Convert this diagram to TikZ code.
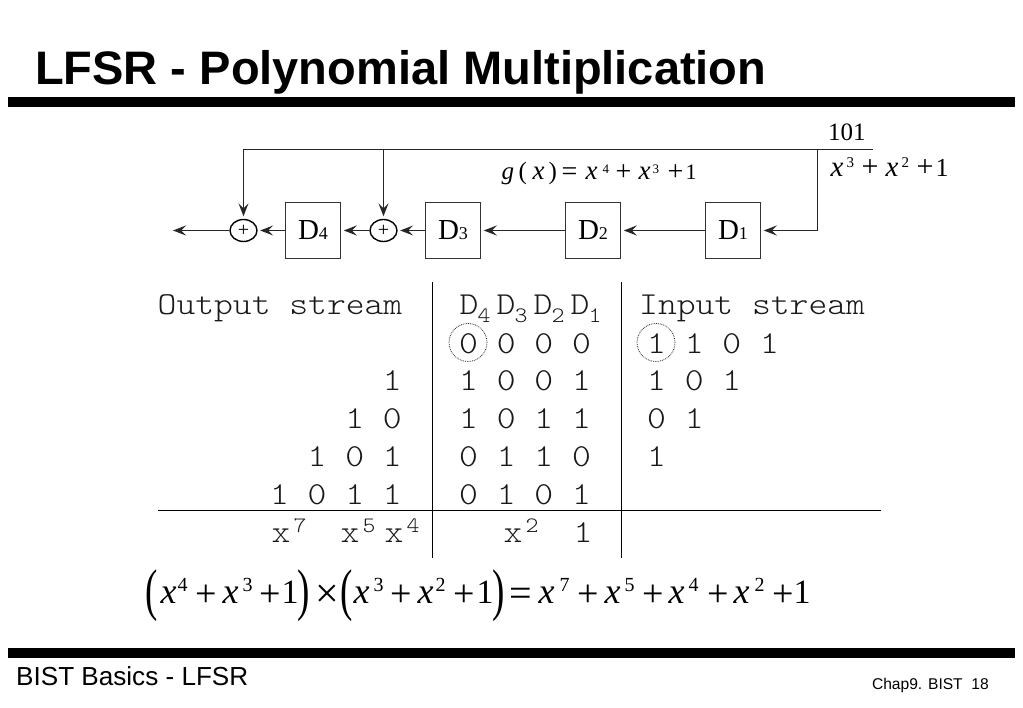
\documentclass[tikz,border=0pt]{standalone}
\usepackage{fontspec}
\usepackage{graphicx}
\usetikzlibrary{arrows.meta,shapes.geometric}
\setmainfont{Liberation Serif}
\newfontfamily\sansf{Liberation Sans}
\newfontfamily\tblf[FakeStretch=1.12]{Latin Modern Mono Light}
\newcommand\fsz[1]{\fontsize{#1}{#1}\selectfont}
\newcommand\tok[2]{\rlap{\kern#1pt\relax #2}}
% equation tokens: {size}{position}
\newcommand\xt[2]{\tok{#2}{\fsz{#1}\textit{x}}}
\newcommand\pt[2]{\tok{#2}{\fsz{#1}\raisebox{-\pdrop pt}{+}}}
\newcommand\pdrop{0}
\newcommand\ot[2]{\tok{#2}{\fsz{#1}1}}
\newcommand\st[4]{\tok{#2}{\raisebox{#3pt}{\fsz{#1}#4}}}
\newcommand\bigp[2]{\tok{#1}{\fsz{37}\raisebox{-6pt}{\scalebox{1}[1.55]{#2}}}}
\tikzset{
  sig/.style={draw=black!85,line width=1.5pt,shorten >=2.5pt,-{Stealth[inset=5pt,length=13pt,width=10pt]}},
  reg/.style={draw=black!80,line width=1.5pt,minimum width=55pt,minimum height=56pt,inner sep=0pt,anchor=center,font=\fsz{29}},
  xorg/.style={draw=black,line width=1.4pt,ellipse,minimum width=27pt,minimum height=22pt,inner sep=0pt,font=\fsz{20}},
  tbl/.style={inner sep=0pt,font=\tblf\fsz{32},text=black!90},
  tline/.style={draw=black,line width=1.4pt},
  rule/.style={fill=black,draw=none},
  dotc/.style={draw=black!85,densely dotted,line width=0.8pt,circle,minimum size=38pt,inner sep=0pt},
  eq/.style={inner sep=0pt,anchor=base west}
}
\begin{document}
\begin{tikzpicture}[x=1pt,y=-1pt]
\useasboundingbox (0,0) rectangle (1023,708);
\fill[white] (0,0) rectangle (1023,708);
% title and rules
\node[inner sep=0pt,anchor=base west,font=\sansf\bfseries\fsz{47}] (title) at (35,85) {LFSR - Polynomial Multiplication};
\path[rule] (8,97) rectangle (1015,107);
\path[rule] (8,648) rectangle (1015,658);
\node[inner sep=0pt,anchor=base west,font=\sansf\fsz{26.1}] (foot) at (16,685) {BIST Basics - LFSR};
\node[inner sep=0pt,anchor=base east,font=\sansf\fsz{15.6}] (chap) at (989,689) {Chap9. BIST\ \ 18};
% LFSR
\node[reg] (d4) at (313,230.5) {D\fsz{18}4};
\node[reg] (d3) at (453,230.5) {D\fsz{18}3};
\node[reg] (d2) at (593,230.5) {D\fsz{18}2};
\node[reg] (d1) at (733,230.5) {D\fsz{18}1};
\node[xorg] (xa) at (243.5,230.5) {+};
\node[xorg] (xb) at (383.5,230.5) {+};
\coordinate (fbend) at (873,149.5);
\coordinate (fbtee) at (817.5,149.5);
\coordinate (fbb) at (383.5,149.5);
\coordinate (outp) at (170.5,230.5);
\draw[draw=black!85,line width=1.5pt] (fbend) -- (fbtee);
\draw[sig] (fbtee) -- (fbb) -| (xa.north);
\draw[sig] (fbb) -- (xb.north);
\draw[sig] (fbtee) |- (d1.east);
\draw[sig] (d1) -- (d2);
\draw[sig] (d2) -- (d3);
\draw[sig] (d3) -- (xb);
\draw[sig] (xb) -- (d4);
\draw[sig] (d4) -- (xa);
\draw[sig] (xa) -- (outp);
% labels on the LFSR
\node[inner sep=0pt,anchor=base west,font=\fsz{25}] (t101) at (828,141) {101};
\node[eq] (eqb) at (830,176.5) {\xt{29}{0}\st{15}{16}{9}{3}\pt{30}{31}\xt{29}{55}\st{15}{71}{9}{2}\pt{30}{86}\ot{26}{105}};
\node[eq] (eqg) at (501,180) {\renewcommand\pdrop{1}\tok{0}{\fsz{25}\textit{g}}\tok{17}{\fsz{25}(}\xt{27}{31}\tok{47}{\fsz{25})}\tok{60}{\fsz{28}\raisebox{-1pt}{=}}\xt{27}{84}\st{13}{101}{6}{4}\pt{28}{114}\xt{27}{137}\st{13}{151}{6}{3}\pt{28}{166}\ot{22}{184}};
% table lines
\coordinate (va1) at (432.5,282); \coordinate (va2) at (432.5,558);
\coordinate (vb1) at (621.5,282); \coordinate (vb2) at (621.5,558);
\coordinate (h1) at (158,510.5); \coordinate (h2) at (881,510.5);
\draw[tline] (va1) -- (va2);
\draw[tline] (vb1) -- (vb2);
\draw[tline] (h1) -- (h2);
% table header
\node[tbl,anchor=base west] (hout) at (157.5,315) {Output~stream};
\node[tbl,anchor=base west] (hin) at (639,315) {Input~stream};
\node[tbl,anchor=base west] (hd) at (459,315) {\tok{0}{D}\tok{18}{\raisebox{-8pt}{\fsz{22}4}}\tok{37}{D}\tok{55}{\raisebox{-8pt}{\fsz{22}3}}\tok{74}{D}\tok{92}{\raisebox{-8pt}{\fsz{22}2}}\tok{111}{D}\tok{129}{\raisebox{-8pt}{\fsz{22}1}}};
% output stream
\node[tbl,anchor=base east] (o1) at (402,391) {1};
\node[tbl,anchor=base east] (o2) at (402,429) {1~0};
\node[tbl,anchor=base east] (o3) at (402,466) {1~0~1};
\node[tbl,anchor=base east] (o4) at (402,504) {1~0~1~1};
% registers
\node[tbl,anchor=base west] (r0) at (459,354) {0~0~0~0};
\node[tbl,anchor=base west] (r1) at (459,391) {1~0~0~1};
\node[tbl,anchor=base west] (r2) at (459,429) {1~0~1~1};
\node[tbl,anchor=base west] (r3) at (459,466) {0~1~1~0};
\node[tbl,anchor=base west] (r4) at (459,504) {0~1~0~1};
% input stream
\node[tbl,anchor=base west] (i0) at (647,354) {1~1~0~1};
\node[tbl,anchor=base west] (i1) at (647,391) {1~0~1};
\node[tbl,anchor=base west] (i2) at (647,429) {0~1};
\node[tbl,anchor=base west] (i3) at (647,466) {1};
% bottom row
\node[tbl,anchor=base west] (pw) at (271,542) {\tok{0}{x}\tok{22}{\raisebox{10pt}{\fsz{22}7}}\tok{69}{x}\tok{91}{\raisebox{10pt}{\fsz{22}5}}\tok{113}{x}\tok{135}{\raisebox{10pt}{\fsz{22}4}}\tok{232}{x}\tok{254}{\raisebox{10pt}{\fsz{22}2}}\tok{302}{1}};
% dotted circles
\node[dotc] (ca) at (468,342.5) {};
\node[dotc] (cb) at (656,342.5) {};
% bottom equation
\node[eq] (eqm) at (145,603) {\renewcommand\pdrop{3}%
\bigp{0}{(}\xt{36}{15}\st{20}{32}{11.5}{4}\pt{38}{50}\xt{36}{77}\st{20}{97}{11.5}{3}\pt{38}{114}\ot{34}{136}\bigp{152}{)}\tok{170}{\fsz{42}\raisebox{-4pt}{×}}%
\bigp{195}{(}\xt{36}{208}\st{20}{228}{11.5}{3}\pt{38}{245}\xt{36}{272}\st{20}{290}{11.5}{2}\pt{38}{308}\ot{34}{331}\bigp{347}{)}\tok{364}{\fsz{40}\raisebox{-3pt}{=}}%
\xt{36}{393}\st{20}{414}{11.5}{7}\pt{38}{432}\xt{36}{459}\st{20}{479}{11.5}{5}\pt{38}{497}\xt{36}{523}\st{20}{543}{11.5}{4}\pt{38}{562}\xt{36}{588}\st{20}{609}{11.5}{2}\pt{38}{627}\ot{34}{648}};
\end{tikzpicture}
\end{document}
